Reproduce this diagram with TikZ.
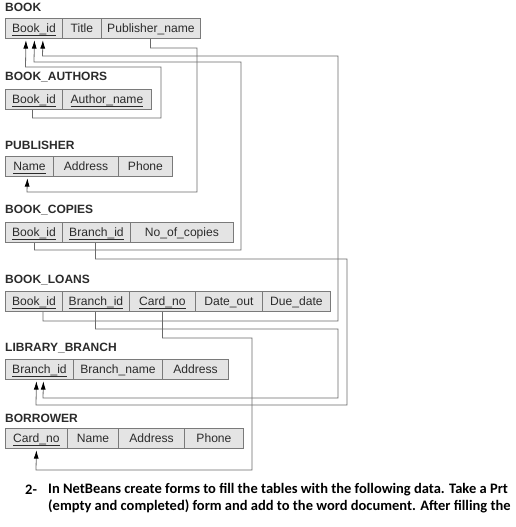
\documentclass[tikz,border=0pt]{standalone}
\usepackage{fontspec}
\setmainfont{Liberation Sans}
\newfontfamily\calib{Carlito}
\usetikzlibrary{arrows.meta}
\definecolor{cellfill}{HTML}{E4E4E4}
\definecolor{cellline}{HTML}{7A7A7A}
\definecolor{txt}{HTML}{2B2B2B}
\definecolor{fkline}{HTML}{6A6A6A}
\newcommand{\ul}[1]{\setbox0=\hbox{#1}\rlap{\rule[-3pt]{\wd0}{0.6pt}}\raisebox{0.8pt}{\box0}}
\tikzset{
  cellbox/.style={draw=cellline, fill=cellfill, line width=0.9pt, inner sep=0pt,
    minimum height=20pt, anchor=north west, text=txt, text height=10pt, text depth=1pt,
    font=\fontsize{12.1}{12}\selectfont},
  tabtitle/.style={anchor=west, inner sep=0pt, text=txt,
    font=\fontsize{12}{12}\selectfont\bfseries},
  fk/.style={draw=fkline, line width=0.8pt,
    -{Latex[length=8.5pt,width=5pt,black]}, shorten >=1.2pt},
  bodytext/.style={anchor=west, inner sep=0pt, text=black,
    font=\calib\fontsize{14.5}{16}\selectfont\bfseries}
}
\newcommand{\mycell}[5]{%
  \node[cellbox, minimum width={(#3-#2)*1pt}] (#1) at (#2,#4) {#5};}
\begin{document}
\begin{tikzpicture}[x=1pt,y=-1pt]
\useasboundingbox (0,0) rectangle (515,527);
\clip (0,0) rectangle (515,527);
% BOOK
\node[tabtitle] (tbook) at (5,7) {BOOK};
\mycell{b1}{5}{62}{18}{\ul{Book\_id}}
\mycell{b2}{62}{101}{18}{Title}
\mycell{b3}{101}{200}{18}{Publisher\_name}
% BOOK_AUTHORS
\node[tabtitle] (tba) at (5,77) {BOOK\_AUTHORS};
\mycell{ba1}{5}{62}{89}{\ul{Book\_id}}
\mycell{ba2}{62}{151}{89}{\ul{Author\_name}}
% PUBLISHER
\node[tabtitle] (tpub) at (5,145) {PUBLISHER};
\mycell{p1}{5}{53}{156}{\ul{Name}}
\mycell{p2}{53}{118}{156}{Address}
\mycell{p3}{118}{172}{156}{Phone}
% BOOK_COPIES
\node[tabtitle] (tbc) at (5,210) {BOOK\_COPIES};
\mycell{bc1}{5}{62}{222}{\ul{Book\_id}}
\mycell{bc2}{62}{130}{222}{\ul{Branch\_id}}
\mycell{bc3}{130}{233}{222}{No\_of\_copies}
% BOOK_LOANS
\node[tabtitle] (tbl) at (5,280) {BOOK\_LOANS};
\mycell{bl1}{5}{62}{291}{\ul{Book\_id}}
\mycell{bl2}{62}{129}{291}{\ul{Branch\_id}}
\mycell{bl3}{129}{195}{291}{\ul{Card\_no}}
\mycell{bl4}{195}{262}{291}{Date\_out}
\mycell{bl5}{262}{330}{291}{Due\_date}
% LIBRARY_BRANCH
\node[tabtitle] (tlb) at (5,348) {LIBRARY\_BRANCH};
\mycell{lb1}{5}{73}{359}{\ul{Branch\_id}}
\mycell{lb2}{73}{162}{359}{Branch\_name}
\mycell{lb3}{162}{228}{359}{Address}
% BORROWER
\node[tabtitle] (tbr) at (5,418) {BORROWER};
\mycell{br1}{5}{67}{428}{\ul{Card\_no}}
\mycell{br2}{67}{118}{428}{Name}
\mycell{br3}{118}{184}{428}{Address}
\mycell{br4}{184}{243}{428}{Phone}
% connectors
\draw[fk] ([xshift=-1.5pt]ba1.south) |- (161,118) |- (25.5,67) -- ([xshift=-8pt]b1.south);
\draw[fk] ([xshift=0.5pt]bc1.south) |- (241,250) |- (34,62) -- ([xshift=0.5pt]b1.south);
\draw[fk] ([xshift=9pt]bl1.south) |- (338,321) |- (42.5,56) -- ([xshift=9pt]b1.south);
\draw[fk] ([xshift=-0.5pt]b3.south) |- (197,48) |- (27,192) -- ([xshift=-2pt]p1.south);
\draw[fk] ([xshift=-1pt]bc2.south) |- (347,259) |- (36,405) -- ([xshift=-3pt]lb1.south);
\draw[fk] ([xshift=-0.5pt]bl2.south) |- (338,329) |- (43,398) -- ([xshift=4pt]lb1.south);
\draw[fk] (bl3.south) |- (252,338) |- (36,470) -- (br1.south);
% bottom text
\node[bodytext] (n2) at (25,490) {2-};
\node[bodytext] (l1) at (48,490) {In NetBeans create forms to fill the tables with the following data. Take a Prt};
\node[bodytext] (l2) at (48,506) {(empty and completed) form and add to the word document. After filling the};
\end{tikzpicture}
\end{document}
